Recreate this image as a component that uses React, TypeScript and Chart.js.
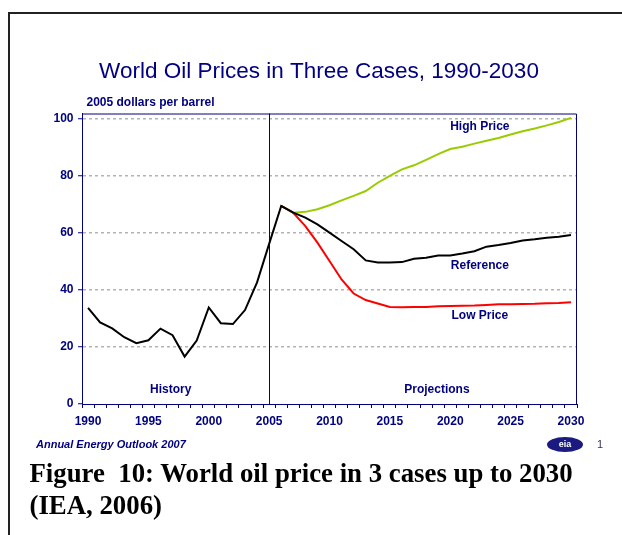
import React, { useEffect, useRef } from 'react';
import { Chart, registerables } from 'chart.js';

Chart.register(...registerables);

// ---------- data ----------
const years = [
  '1990', '1991', '1992', '1993', '1994', '1995', '1996', '1997', '1998', '1999',
  '2000', '2001', '2002', '2003', '2004', '2005', '2006', '2007', '2008', '2009',
  '2010', '2011', '2012', '2013', '2014', '2015', '2016', '2017', '2018', '2019',
  '2020', '2021', '2022', '2023', '2024', '2025', '2026', '2027', '2028', '2029',
  '2030',
];

// history 1990-2005 followed by the reference case
const referenceCase = [
  33.7, 28.6, 26.5, 23.4, 21.3, 22.3, 26.4, 24.1, 16.6, 22.2,
  33.8, 28.3, 28.0, 32.9, 42.6, 56.1, 69.4, 67.0, 65.3, 62.9,
  60.0, 57.1, 54.2, 50.3, 49.6, 49.6, 49.7, 50.9, 51.2, 52.0,
  52.0, 52.7, 53.5, 55.1, 55.7, 56.4, 57.3, 57.7, 58.2, 58.6,
  59.2,
];

const highPriceCase = [
  null, null, null, null, null, null, null, null, null, null,
  null, null, null, null, null, null, 69.4, 67.0, 67.3, 68.2,
  69.6, 71.3, 72.9, 74.6, 77.5, 79.9, 82.2, 83.6, 85.5, 87.5,
  89.3, 90.1, 91.2, 92.2, 93.2, 94.4, 95.5, 96.5, 97.6, 98.8,
  100.2,
];

const lowPriceCase = [
  null, null, null, null, null, null, null, null, null, null,
  null, null, null, null, null, null, 69.4, 67.0, 62.3, 56.5,
  50.1, 43.6, 38.7, 36.4, 35.2, 34.0, 33.9, 34.0, 34.0, 34.2,
  34.3, 34.4, 34.5, 34.7, 34.9, 34.9, 35.0, 35.1, 35.3, 35.4,
  35.6,
];

const yTickValues = [0, 20, 40, 60, 80, 100];
const labelledYears = ['1990', '1995', '2000', '2005', '2010', '2015', '2020', '2025', '2030'];
const dividerYear = '2005';

const chartTitle = 'World Oil Prices in Three Cases, 1990-2030';
const unitLabel = '2005 dollars per barrel';
const seriesNames = ['Reference', 'High Price', 'Low Price'];
const periodNames = ['History', 'Projections'];

// ---------- styles ----------
const NAVY = '#000080';
const FONT = "'Liberation Sans', Arial, Helvetica, sans-serif";

const annotationsPlugin = {
  id: 'oilAnnotations',
  beforeDatasetsDraw(chart: any) {
    const { ctx, chartArea: a, scales } = chart;
    const x = scales.x;
    ctx.save();
    ctx.strokeStyle = NAVY;
    ctx.lineWidth = 1;
    ctx.beginPath();
    ctx.moveTo(a.left, a.top + 0.5);
    ctx.lineTo(a.right - 0.5, a.top + 0.5);
    ctx.lineTo(a.right - 0.5, a.bottom);
    ctx.stroke();
    const xd = Math.round(x.getPixelForValue(years.indexOf(dividerYear))) + 0.5;
    ctx.beginPath();
    ctx.moveTo(xd, a.top);
    ctx.lineTo(xd, a.bottom);
    ctx.stroke();
    ctx.restore();
  },
  afterDatasetsDraw(chart: any) {
    const { ctx, chartArea: a, scales } = chart;
    const x = scales.x;
    const y = scales.y;
    ctx.save();
    ctx.fillStyle = NAVY;
    // title
    ctx.font = `22.5px ${FONT}`;
    ctx.textAlign = 'center';
    ctx.textBaseline = 'alphabetic';
    ctx.fillText(chartTitle, 319, 77.5);
    // unit label
    ctx.font = `bold 12px ${FONT}`;
    ctx.textAlign = 'left';
    ctx.textBaseline = 'middle';
    ctx.fillText(unitLabel, a.left + 4.5, 103);
    // series labels
    ctx.textAlign = 'center';
    const labelIdx = 32.45;
    ctx.fillText(seriesNames[1], x.getPixelForValue(labelIdx), y.getPixelForValue(97));
    ctx.fillText(seriesNames[0], x.getPixelForValue(labelIdx), y.getPixelForValue(48.4));
    ctx.fillText(seriesNames[2], x.getPixelForValue(labelIdx), y.getPixelForValue(30.8));
    // period labels
    ctx.fillText(periodNames[0], x.getPixelForValue(6.85), y.getPixelForValue(5));
    ctx.fillText(periodNames[1], x.getPixelForValue(28.9), y.getPixelForValue(5));
    ctx.restore();
  },
};

export default function App() {
  const canvasRef = useRef<HTMLCanvasElement | null>(null);

  useEffect(() => {
    if (!canvasRef.current) return;
    const chart = new Chart(canvasRef.current, {
      type: 'line',
      data: {
        labels: years,
        datasets: [
          {
            label: seriesNames[0],
            data: referenceCase,
            borderColor: '#000000',
            borderWidth: 2,
            pointRadius: 0,
            tension: 0,
            fill: false,
          },
          {
            label: seriesNames[2],
            data: lowPriceCase,
            borderColor: '#ff0000',
            borderWidth: 2,
            pointRadius: 0,
            tension: 0,
            fill: false,
          },
          {
            label: seriesNames[1],
            data: highPriceCase,
            borderColor: '#99cc00',
            borderWidth: 2,
            pointRadius: 0,
            tension: 0,
            fill: false,
          },
        ],
      },
      options: {
        responsive: false,
        animation: false,
        devicePixelRatio: 1,
        layout: { padding: { left: 0, right: 45, top: 113.5, bottom: 0 } },
        plugins: {
          legend: { display: false },
          tooltip: { enabled: false },
          title: { display: false },
        },
        scales: {
          x: {
            type: 'category',
            offset: true,
            afterFit: (scale: any) => {
              scale.height = 36;
            },
            grid: {
              display: true,
              offset: true,
              drawOnChartArea: false,
              drawTicks: true,
              tickLength: 4,
              tickColor: NAVY,
              tickWidth: 1,
              tickBorderDash: [],
            },
            border: { display: true, color: NAVY, width: 1 },
            ticks: {
              autoSkip: false,
              maxRotation: 0,
              minRotation: 0,
              padding: 6,
              color: NAVY,
              font: { family: FONT, size: 12, weight: 'bold' },
              callback: (_v: any, i: number) =>
                labelledYears.includes(years[i]) ? years[i] : '',
            },
          },
          y: {
            type: 'linear',
            min: 0,
            max: 101.75,
            afterFit: (scale: any) => {
              scale.width = 82;
            },
            afterBuildTicks: (scale: any) => {
              scale.ticks = yTickValues.map((v) => ({ value: v }));
            },
            grid: {
              display: true,
              drawTicks: true,
              tickLength: 4,
              tickColor: NAVY,
              tickWidth: 1,
              tickBorderDash: [],
              lineWidth: 1.5,
              color: (c: any) =>
                c.tick && c.tick.value === 0 ? 'rgba(0,0,0,0)' : '#b3b3b3',
            },
            border: { display: true, color: NAVY, width: 1, dash: [3, 3] },
            ticks: {
              padding: 4.5,
              color: NAVY,
              font: { family: FONT, size: 12, weight: 'bold' },
            },
          },
        },
      },
      plugins: [annotationsPlugin],
    } as any);
    return () => chart.destroy();
  }, []);

  return (
    <div
      style={{
        position: 'fixed',
        left: 0,
        top: 0,
        width: 622,
        height: 535,
        overflow: 'hidden',
        background: '#ffffff',
      }}
    >
      <div
        style={{
          position: 'absolute',
          left: 8,
          top: 12,
          width: 700,
          height: 600,
          borderLeft: '2px solid #222222',
          borderTop: '2px solid #222222',
        }}
      />
      <canvas
        ref={canvasRef}
        width={622}
        height={440}
        style={{ position: 'absolute', left: 0, top: 0, width: 622, height: 440 }}
      />
      <div
        style={{
          position: 'absolute',
          left: 36,
          top: 439,
          font: `italic bold 11px ${FONT}`,
          lineHeight: '11px',
          color: NAVY,
          whiteSpace: 'nowrap',
        }}
      >
        Annual Energy Outlook 2007
      </div>
      <div
        style={{
          position: 'absolute',
          left: 547,
          top: 437,
          width: 36,
          height: 15,
          borderRadius: '50%',
          background: '#1a1a80',
          color: '#ffffff',
          font: `bold 9px ${FONT}`,
          lineHeight: '15px',
          textAlign: 'center',
        }}
      >
        eia
      </div>
      <div
        style={{
          position: 'absolute',
          left: 597,
          top: 438,
          font: `11px ${FONT}`,
          lineHeight: '12px',
          color: '#333366',
        }}
      >
        1
      </div>
      <div
        style={{
          position: 'absolute',
          left: 29.5,
          top: 458,
          font: `bold 26.8px 'Liberation Serif', 'Times New Roman', serif`,
          lineHeight: '31.7px',
          color: '#000000',
          whiteSpace: 'pre',
        }}
      >
        {'Figure  10: World oil price in 3 cases up to 2030\n(IEA, 2006)'}
      </div>
    </div>
  );
}
